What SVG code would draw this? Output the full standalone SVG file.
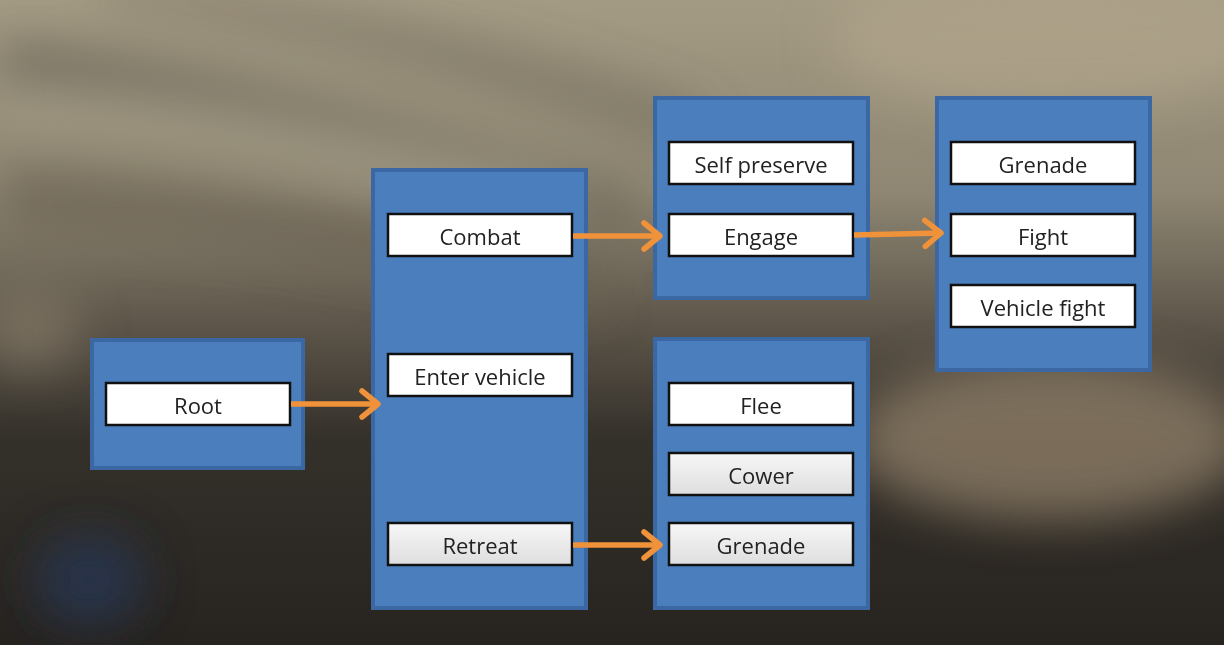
<svg xmlns="http://www.w3.org/2000/svg" width="1224" height="645" viewBox="0 0 1224 645">
<defs>
<linearGradient id="bg" x1="0" y1="0" x2="0" y2="1">
<stop offset="0" stop-color="#a49b84"/>
<stop offset="0.3" stop-color="#8e8672"/>
<stop offset="0.5" stop-color="#5e564a"/>
<stop offset="0.68" stop-color="#34302a"/>
<stop offset="1" stop-color="#27231f"/>
</linearGradient>
<linearGradient id="gray" x1="0" y1="0" x2="0" y2="1">
<stop offset="0" stop-color="#f7f7f7"/>
<stop offset="1" stop-color="#dedede"/>
</linearGradient>
<filter id="blur" x="-30%" y="-30%" width="160%" height="160%">
<feGaussianBlur stdDeviation="24"/>
</filter>
<marker id="chev" viewBox="0 0 24 34" refX="20" refY="17" markerWidth="24" markerHeight="34" markerUnits="userSpaceOnUse" orient="auto">
<path d="M4,4 L20,17 L4,30" fill="none" stroke="#f0923a" stroke-width="5.5" stroke-linecap="round" stroke-linejoin="round"/>
</marker>
<style>
.panel{fill:#4a7ebc;stroke:#3b68a2;stroke-width:4}
.box{fill:#ffffff;stroke:#111;stroke-width:2.5}
.gbox{fill:url(#gray);stroke:#111;stroke-width:2.5}
.lbl{font-family:"Open Sans","Noto Sans",sans-serif;font-size:22px;fill:#222;text-anchor:middle;dominant-baseline:central}
.arr{stroke:#f0923a;stroke-width:5.5;fill:none;marker-end:url(#chev)}
</style>
</defs>
<g id="background">
<rect width="1224" height="645" fill="url(#bg)"/>
<g filter="url(#blur)">
<path d="M0,40 C200,60 400,120 640,200 L640,240 C400,170 200,110 0,95 Z" fill="#6c6658" opacity="0.8"/>
<path d="M0,170 C200,180 400,220 600,270 L600,310 C400,270 200,230 0,225 Z" fill="#6a6354" opacity="0.8"/>
<path d="M100,0 C300,30 500,80 700,150 L700,110 C500,40 300,0 100,-20 Z" fill="#6c6658" opacity="0.6"/>
<path d="M0,110 C200,120 380,170 560,220 L560,190 C380,140 200,100 0,90 Z" fill="#b8b099" opacity="0.7"/>
<ellipse cx="1050" cy="440" rx="200" ry="80" fill="#8c7c66" opacity="0.8"/>
<ellipse cx="1050" cy="40" rx="220" ry="70" fill="#b0a48a" opacity="0.7"/>
<ellipse cx="90" cy="580" rx="55" ry="45" fill="#263a55" opacity="0.8"/>
<ellipse cx="30" cy="330" rx="50" ry="40" fill="#8a806c" opacity="0.6"/>
</g>
</g>
<g id="root-panel">
<rect class="panel" x="92" y="340" width="211" height="128"/>
<g id="root"><rect class="box" x="106" y="383" width="184" height="42"/><text class="lbl" x="198" y="405">Root</text></g>
</g>
<g id="mid-panel">
<rect class="panel" x="373" y="170" width="213" height="438"/>
<g id="combat"><rect class="box" x="388" y="214" width="184" height="42"/><text class="lbl" x="480" y="236">Combat</text></g>
<g id="enter-vehicle"><rect class="box" x="388" y="354" width="184" height="42"/><text class="lbl" x="480" y="376">Enter vehicle</text></g>
<g id="retreat"><rect class="gbox" x="388" y="523" width="184" height="42"/><text class="lbl" x="480" y="545">Retreat</text></g>
</g>
<g id="combat-panel">
<rect class="panel" x="655" y="98" width="213" height="200"/>
<g id="self-preserve"><rect class="box" x="669" y="142" width="184" height="42"/><text class="lbl" x="761" y="164">Self preserve</text></g>
<g id="engage"><rect class="box" x="669" y="214" width="184" height="42"/><text class="lbl" x="761" y="236">Engage</text></g>
</g>
<g id="retreat-panel">
<rect class="panel" x="655" y="339" width="213" height="269"/>
<g id="flee"><rect class="box" x="669" y="383" width="184" height="42"/><text class="lbl" x="761" y="405">Flee</text></g>
<g id="cower"><rect class="gbox" x="669" y="453" width="184" height="42"/><text class="lbl" x="761" y="475">Cower</text></g>
<g id="grenade-r"><rect class="gbox" x="669" y="523" width="184" height="42"/><text class="lbl" x="761" y="545">Grenade</text></g>
</g>
<g id="engage-panel">
<rect class="panel" x="937" y="98" width="213" height="272"/>
<g id="grenade-e"><rect class="box" x="951" y="142" width="184" height="42"/><text class="lbl" x="1043" y="164">Grenade</text></g>
<g id="fight"><rect class="box" x="951" y="214" width="184" height="42"/><text class="lbl" x="1043" y="236">Fight</text></g>
<g id="vehicle-fight"><rect class="box" x="951" y="285" width="184" height="42"/><text class="lbl" x="1043" y="307">Vehicle fight</text></g>
</g>
<g id="connectors">
<line class="arr" x1="291" y1="404" x2="378" y2="404"/>
<line class="arr" x1="573" y1="236" x2="660" y2="236"/>
<line class="arr" x1="854" y1="235" x2="941" y2="233"/>
<line class="arr" x1="573" y1="545" x2="660" y2="545"/>
</g>
</svg>
